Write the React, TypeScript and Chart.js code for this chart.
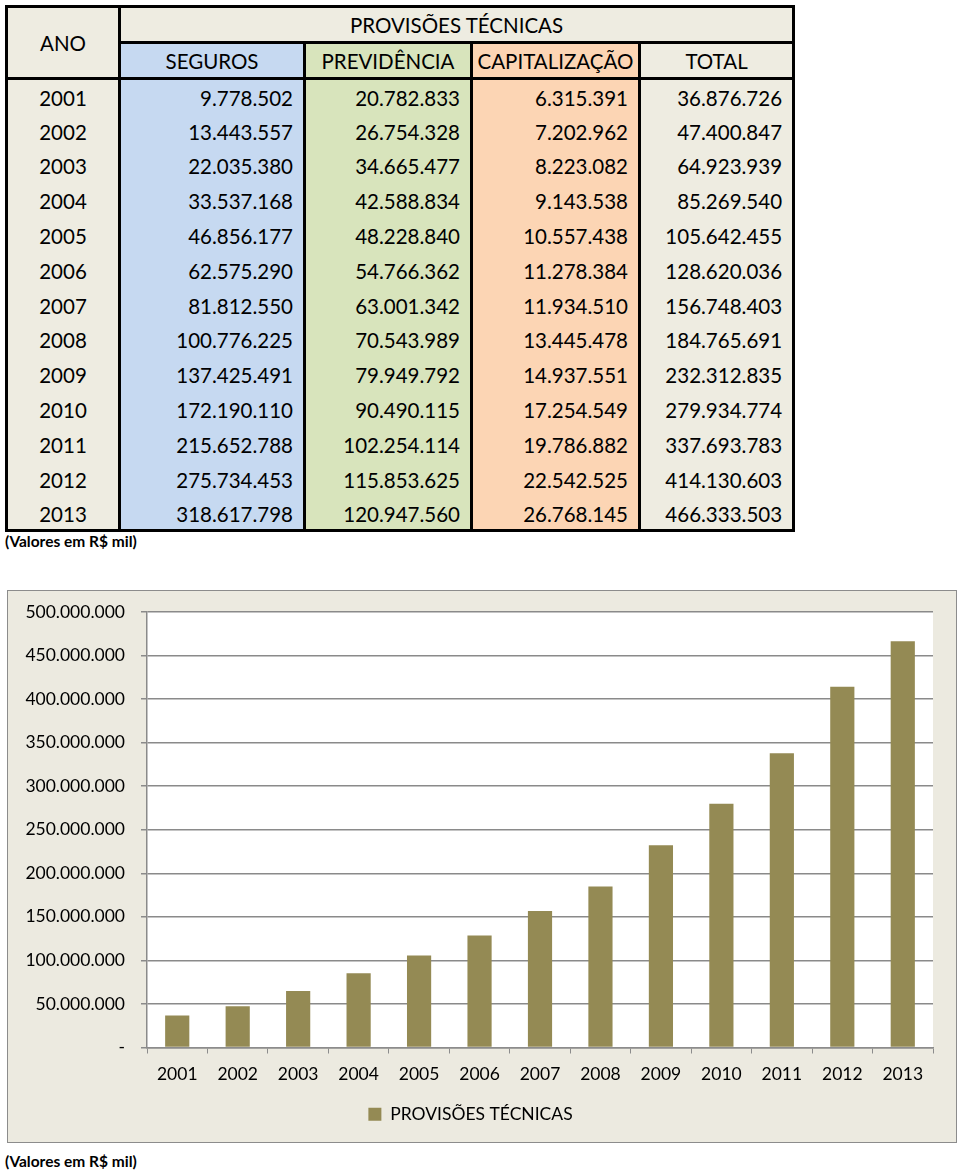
import React, { useEffect, useRef } from "react";
import { Chart, registerables } from "chart.js";

Chart.register(...registerables);

const years = ["2001", "2002", "2003", "2004", "2005", "2006", "2007", "2008", "2009", "2010", "2011", "2012", "2013"];
const seguros = [9778502, 13443557, 22035380, 33537168, 46856177, 62575290, 81812550, 100776225, 137425491, 172190110, 215652788, 275734453, 318617798];
const previdencia = [20782833, 26754328, 34665477, 42588834, 48228840, 54766362, 63001342, 70543989, 79949792, 90490115, 102254114, 115853625, 120947560];
const capitalizacao = [6315391, 7202962, 8223082, 9143538, 10557438, 11278384, 11934510, 13445478, 14937551, 17254549, 19786882, 22542525, 26768145];
const total = [36876726, 47400847, 64923939, 85269540, 105642455, 128620036, 156748403, 184765691, 232312835, 279934774, 337693783, 414130603, 466333503];

const seriesLabel = "PROVISÕES TÉCNICAS";
const headerTitle = "PROVISÕES TÉCNICAS";
const colHeaders = ["SEGUROS", "PREVIDÊNCIA", "CAPITALIZAÇÃO", "TOTAL"];
const anoLabel = "ANO";
const note = "(Valores em R$ mil)";

const FONT = "Lato, 'Open Sans', sans-serif";
const BAR = "#948A54";
const BEIGE = "#EEECE1";
const BLUE = "#C6D9F1";
const GREEN = "#D8E4BC";
const ORANGE = "#FCD5B4";

function fmt(n: number): string {
  const s = Math.round(n).toString();
  return s.replace(/\B(?=(\d{3})+(?!\d))/g, ".");
}

const B = "3px solid #000";

function DataTable() {
  const colW = [113, 185, 167, 168, 154];
  const colBg = [BEIGE, BLUE, GREEN, ORANGE, BEIGE];
  const cell: React.CSSProperties = {
    padding: 0,
    fontFamily: FONT,
    fontSize: 20.5,
    color: "#000",
    whiteSpace: "nowrap",
  };
  return (
    <table
      style={{
        position: "absolute",
        left: 5,
        top: 5,
        borderCollapse: "collapse",
        tableLayout: "fixed",
        width: 787,
        border: B,
      }}
    >
      <colgroup>
        {colW.map((w, i) => (
          <col key={i} style={{ width: w }} />
        ))}
      </colgroup>
      <tbody>
        <tr style={{ height: 36 }}>
          <td rowSpan={2} style={{ ...cell, background: BEIGE, textAlign: "center", borderRight: B, borderBottom: B }}>
            {anoLabel}
          </td>
          <td colSpan={4} style={{ ...cell, background: BEIGE, textAlign: "center", borderBottom: B, paddingTop: 0 }}>
            {headerTitle}
          </td>
        </tr>
        <tr style={{ height: 36 }}>
          {colHeaders.map((h, i) => (
            <td
              key={h}
              style={{
                ...cell,
                background: colBg[i + 1],
                textAlign: "center",
                borderRight: B,
                borderBottom: B,
                paddingTop: 0,
              }}
            >
              {h}
            </td>
          ))}
        </tr>
        {years.map((y, r) => {
          const vals = [seguros[r], previdencia[r], capitalizacao[r], total[r]];
          return (
            <tr key={y} style={{ height: 34.8 }}>
              <td style={{ ...cell, background: BEIGE, textAlign: "center", borderRight: B, paddingTop: 2 }}>{y}</td>
              {vals.map((v, i) => (
                <td
                  key={i}
                  style={{
                    ...cell,
                    background: colBg[i + 1],
                    textAlign: "right",
                    paddingRight: 10,
                    paddingTop: 2,
                    borderRight: B,
                  }}
                >
                  {fmt(v)}
                </td>
              ))}
            </tr>
          );
        })}
      </tbody>
    </table>
  );
}

function BarChart() {
  const ref = useRef<HTMLCanvasElement | null>(null);
  useEffect(() => {
    if (!ref.current) return;
    const plotBg = {
      id: "plotBg",
      beforeDraw(chart: any) {
        const { ctx, chartArea } = chart;
        ctx.save();
        ctx.fillStyle = "#FFFFFF";
        ctx.fillRect(chartArea.left, chartArea.top, chartArea.right - chartArea.left, chartArea.bottom - chartArea.top);
        ctx.restore();
      },
    };
    const chart = new Chart(ref.current, {
      type: "bar",
      data: {
        labels: years,
        datasets: [
          {
            label: seriesLabel,
            data: total,
            backgroundColor: BAR,
            borderWidth: 0,
            categoryPercentage: 1,
            barPercentage: 0.4,
          },
        ],
      },
      plugins: [plotBg],
      options: {
        responsive: false,
        animation: false,
        devicePixelRatio: 1,
        layout: { padding: { left: 0, right: 23, top: 21, bottom: 9 } },
        plugins: {
          legend: {
            position: "bottom",
            labels: {
              boxWidth: 13,
              boxHeight: 13,
              padding: 18,
              color: "#000",
              font: { family: FONT, size: 17.5 },
            },
          },
          tooltip: { enabled: false },
        },
        scales: {
          x: {
            grid: {
              display: true,
              drawOnChartArea: false,
              drawTicks: true,
              tickLength: 6,
              color: "#8C8C8C",
              offset: true,
            },
            border: { display: true, color: "#8C8C8C", width: 1.5 },
            ticks: {
              color: "#000",
              padding: 10,
              maxRotation: 0,
              font: { family: FONT, size: 17.5 },
            },
            afterFit(scale: any) {
              scale.height = 40;
              scale.paddingLeft = 0;
              scale.paddingRight = 0;
            },
          },
          y: {
            min: 0,
            max: 500000000,
            grid: {
              color: "#8A8A8A",
              lineWidth: 1.5,
              drawTicks: true,
              tickLength: 6,
            },
            border: { display: true, color: "#8A8A8A", width: 1.5 },
            ticks: {
              stepSize: 50000000,
              color: "#000",
              padding: 16,
              font: { family: FONT, size: 17.5 },
              callback: (v: any) => (Number(v) === 0 ? "-" : fmt(Number(v))),
            },
            afterFit(scale: any) {
              scale.width = 139;
              scale.paddingTop = 0;
              scale.paddingBottom = 0;
            },
          },
        },
      },
    });
    return () => chart.destroy();
  }, []);
  return (
    <div
      style={{
        position: "absolute",
        left: 7,
        top: 590,
        width: 948,
        height: 551,
        border: "1px solid #8C8C8C",
        background: "#ECEAE0",
      }}
    >
      <canvas ref={ref} width={948} height={551} style={{ display: "block", width: 948, height: 551 }} />
    </div>
  );
}

export default function App() {
  return (
    <div style={{ position: "absolute", left: 0, top: 0, width: 960, height: 1174, background: "#fff" }}>
      <DataTable />
      <div
        style={{
          position: "absolute",
          left: 5,
          top: 532,
          fontFamily: FONT,
          fontWeight: 700,
          fontSize: 15.5,
          color: "#000",
        }}
      >
        {note}
      </div>
      <BarChart />
      <div
        style={{
          position: "absolute",
          left: 5,
          top: 1152,
          fontFamily: FONT,
          fontWeight: 700,
          fontSize: 15.5,
          color: "#000",
        }}
      >
        {note}
      </div>
    </div>
  );
}
